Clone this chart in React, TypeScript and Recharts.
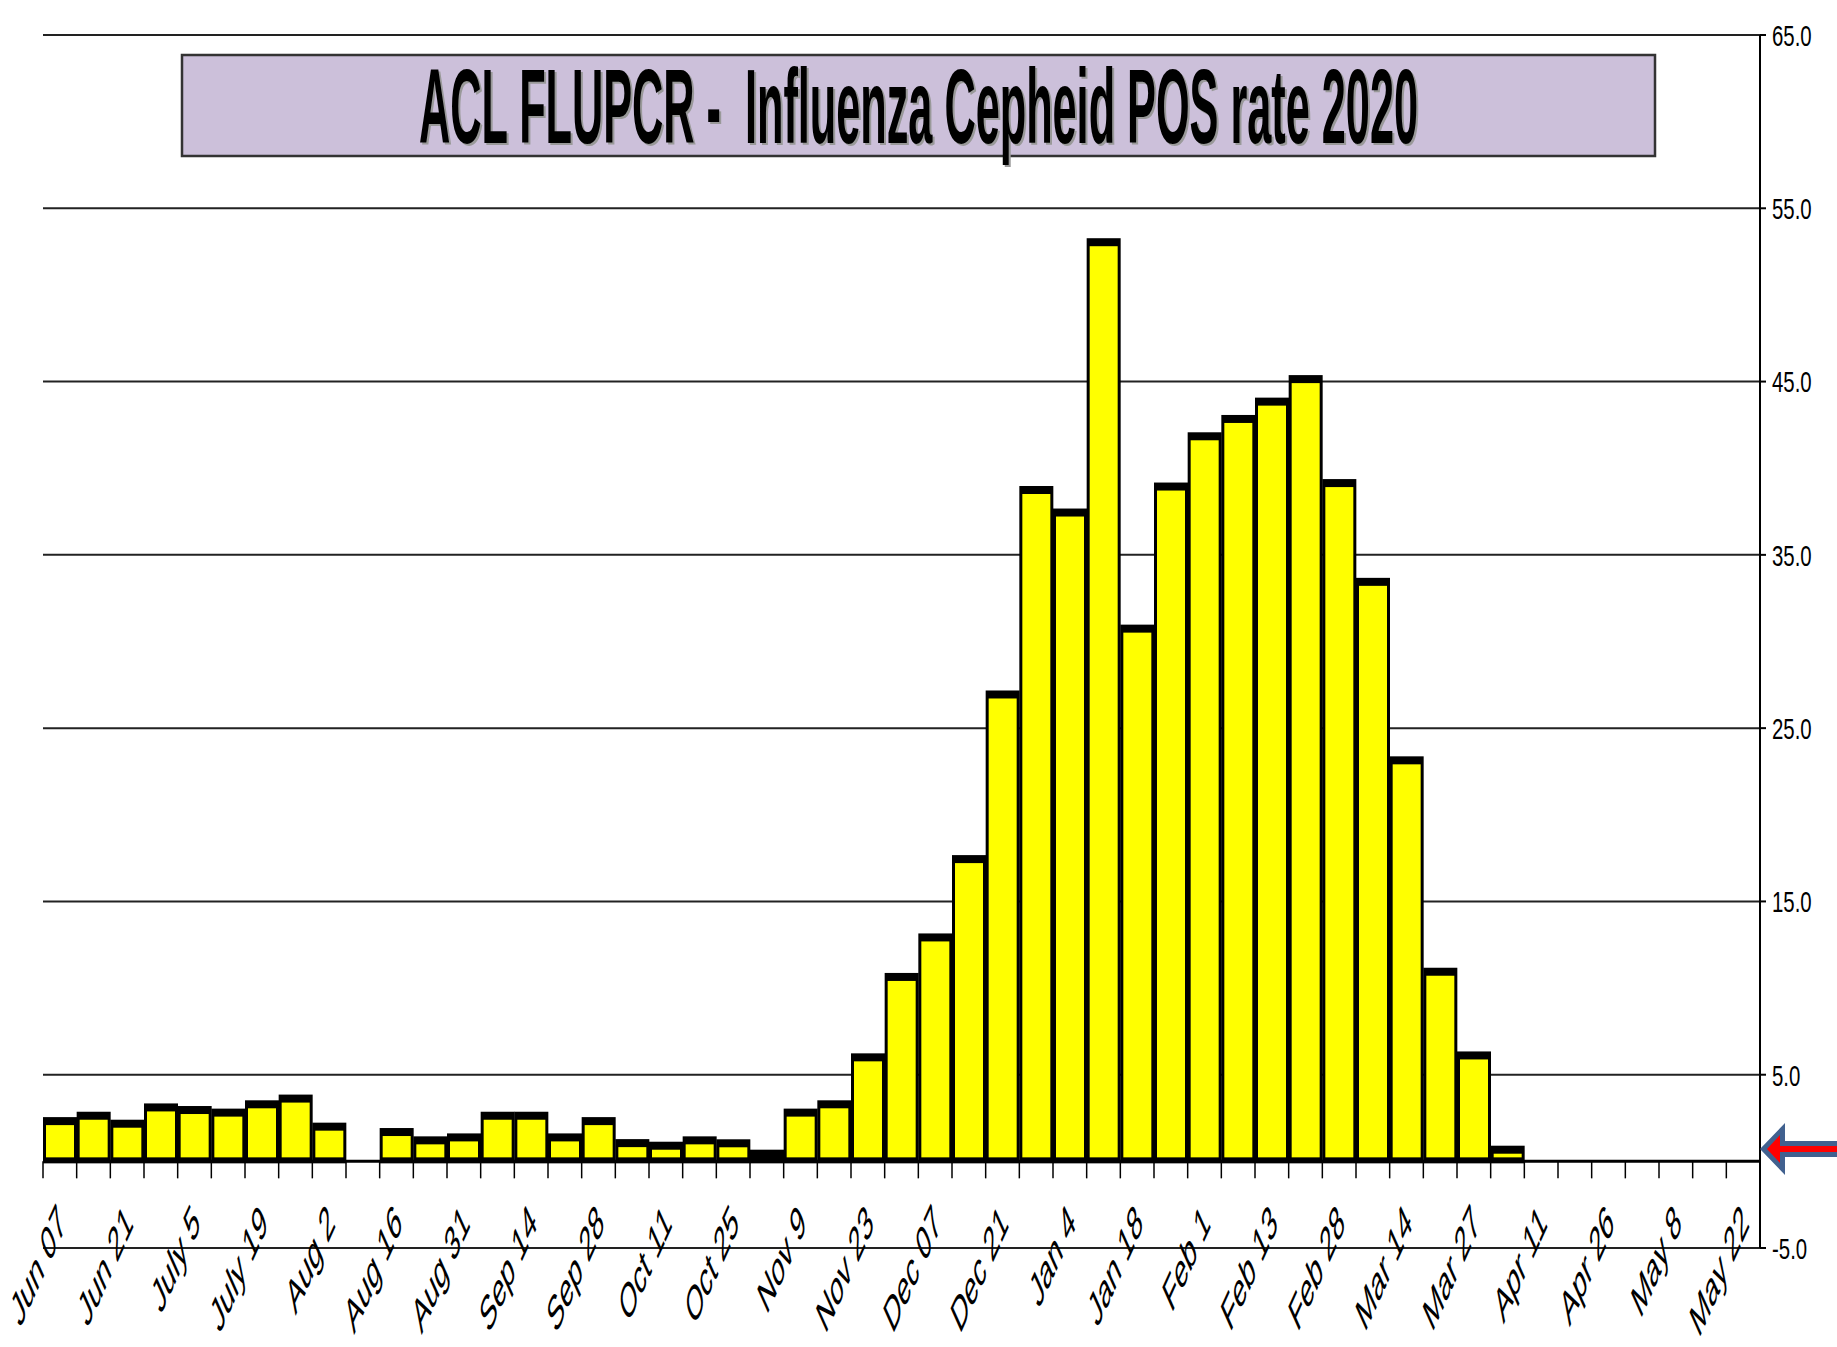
import { BarChart, Bar, XAxis, YAxis, CartesianGrid, ReferenceLine } from 'recharts'

// weekly tick labels (every second week carries a label)
const TICK_LABELS = [
  'Jun 07', 'Jun 21', 'July 5', 'July 19', 'Aug 2', 'Aug 16', 'Aug 31', 'Sep 14', 'Sep 28',
  'Oct 11', 'Oct 25', 'Nov 9', 'Nov 23', 'Dec 07', 'Dec 21', 'Jan 4', 'Jan 18', 'Feb 1',
  'Feb 13', 'Feb 28', 'Mar 14', 'Mar 27', 'Apr 11', 'Apr 26', 'May 8', 'May 22',
]

// % positive per week, 51 weeks (null = no data)
const POS_RATE = [
  2.38, 2.69, 2.23, 3.17, 3.02, 2.87, 3.35, 3.68, 2.06, null,
  1.75, 1.27, 1.44, 2.69, 2.69, 1.44, 2.38, 1.11, 0.96, 1.27,
  1.1, 0.5, 2.87, 3.35, 6.06, 10.7, 12.98, 17.5, 27.0, 38.8,
  37.5, 53.1, 30.8, 39.0, 41.9, 42.9, 43.9, 45.2, 39.2, 33.5,
  23.2, 11.0, 6.17, 0.73, null, null, null, null, null, null, null,
]

const Y_TICKS = [-5, 5, 15, 25, 35, 45, 55, 65]
const TITLE = 'ACL FLUPCR -  Influenza Cepheid POS rate 2020'

const W = 1837
const H = 1347
const M = { top: 35, left: 43, right: 0, bottom: 0 }
const Y_AXIS_W = 77
const X_AXIS_H = 99
const PLOT_BOTTOM = H - X_AXIS_H
const PLOT_H = PLOT_BOTTOM - M.top
const PLOT_W = W - Y_AXIS_W - M.left
const BAND = PLOT_W / POS_RATE.length
const ZERO_Y = PLOT_BOTTOM - (5 / 70) * PLOT_H

const data = POS_RATE.map((v, i) => ({
  week: i,
  label: i % 2 === 0 ? TICK_LABELS[i / 2] : '',
  rate: v,
}))

const FONT = '"Liberation Sans", Arial, sans-serif'

const XTick = (props: any) => {
  const { x, payload } = props
  const idx = payload.value as number
  const label = data[idx]?.label
  return (
    <g>
      <line x1={x - BAND / 2} x2={x - BAND / 2} y1={ZERO_Y} y2={ZERO_Y + 17} stroke="#000" strokeWidth={1.5} />
      {idx === data.length - 1 && (
        <line x1={x + BAND / 2} x2={x + BAND / 2} y1={ZERO_Y} y2={ZERO_Y + 17} stroke="#000" strokeWidth={1.5} />
      )}
      {label && (
        <text
          transform={`translate(${x + 7},${ZERO_Y + 64}) scale(0.45,1) rotate(-45)`}
          textAnchor="end"
          fontSize={49}
          fontFamily={FONT}
          fill="#000"
        >
          {label}
        </text>
      )}
    </g>
  )
}

const YTick = (props: any) => {
  const { x, y, payload } = props
  return (
    <text
      transform={`translate(${x + 2},${y}) scale(0.68,1)`}
      dy="0.36em"
      textAnchor="start"
      fontSize={30}
      fontFamily={FONT}
      fill="#000"
    >
      {Number(payload.value).toFixed(1)}
    </text>
  )
}

const BarShape = (props: any) => {
  const { x, y, width, height } = props
  if (height == null || height <= 0) return null
  const base = y + height
  const innerH = base - 4 - (y + 5)
  return (
    <g>
      <rect x={x} y={y - 3} width={width} height={base + 2 - (y - 3)} fill="#000" />
      {innerH > 0 && <rect x={x + 3} y={y + 5} width={width - 6} height={innerH} fill="#ffff00" />}
    </g>
  )
}

export default function App() {
  return (
    <div style={{ position: 'absolute', left: 0, top: 0, width: W, height: H, background: '#fff' }}>
      <BarChart width={W} height={H} data={data} margin={M} barCategoryGap={0} barGap={0}>
        <CartesianGrid vertical={false} stroke="#222" strokeWidth={2} />
        <XAxis
          dataKey="week"
          type="category"
          interval={0}
          height={X_AXIS_H}
          axisLine={false}
          tickLine={false}
          tick={<XTick />}
        />
        <YAxis
          orientation="right"
          width={Y_AXIS_W}
          domain={[-5, 65]}
          ticks={Y_TICKS}
          interval={0}
          axisLine={{ stroke: '#000', strokeWidth: 2 }}
          tickLine={{ stroke: '#000', strokeWidth: 2 }}
          tickSize={6}
          tickMargin={4}
          tick={<YTick />}
        />
        <ReferenceLine y={0} stroke="#000" strokeWidth={3} />
        <Bar dataKey="rate" isAnimationActive={false} shape={<BarShape />} />
      </BarChart>
      <svg width={W} height={H} style={{ position: 'absolute', left: 0, top: 0, pointerEvents: 'none' }}>
        <rect x={182} y={55} width={1473} height={101} fill="#ccc0da" stroke="#333" strokeWidth={2.5} />
        <text
          x={421}
          y={145}
          textLength={999}
          lengthAdjust="spacingAndGlyphs"
          fontSize={105}
          fontWeight="bold"
          fontFamily={FONT}
          fill="#999"
          style={{ whiteSpace: 'pre' }}
        >
          {TITLE}
        </text>
        <text
          x={419}
          y={143}
          textLength={999}
          lengthAdjust="spacingAndGlyphs"
          fontSize={105}
          fontWeight="bold"
          fontFamily={FONT}
          fill="#000"
          style={{ whiteSpace: 'pre' }}
        >
          {TITLE}
        </text>
        <polygon
          points="1760,1149 1785,1123 1785,1141 1837,1141 1837,1157 1785,1157 1785,1175"
          fill="#41618f"
        />
        <polygon
          points="1767,1149 1780,1135 1780,1146 1837,1146 1837,1152 1780,1152 1780,1163"
          fill="#ff0000"
        />
      </svg>
    </div>
  )
}
